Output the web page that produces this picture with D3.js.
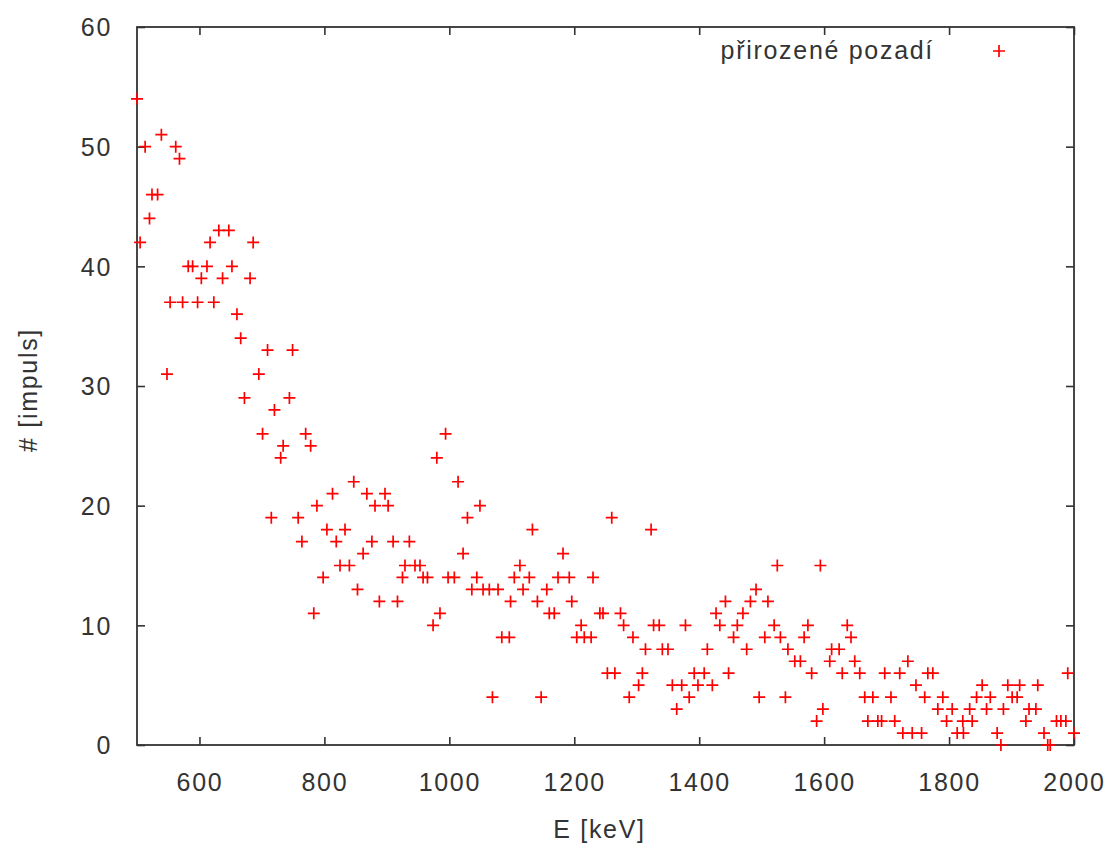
<!DOCTYPE html>
<html>
<head>
<meta charset="utf-8">
<script src="https://cdn.jsdelivr.net/npm/d3@7"></script>
<style>
  body { margin: 0; background: #fff; }
  text { font-family: "Liberation Sans", Arial, sans-serif; fill: #333; letter-spacing: 1.7px; }
</style>
</head>
<body>
<div id="container"></div>
<script>
const width = 1110,
  height = 848,
  margin = { top: 27, bottom: 103, left: 137, right: 36 };

/** -------------- DATA -------------- */

// energy of each channel [keV]
const energy = [
  500, 505, 513, 520, 524, 533, 539, 548, 553, 562, 568, 573, 582, 589, 597, 603,
  612, 617, 623, 631, 637, 647, 652, 660, 666, 672, 681, 686, 695, 701, 709, 715,
  720, 730, 734, 744, 749, 758, 764, 770, 778, 783, 788, 798, 804, 813, 819, 825,
  833, 840, 847, 853, 862, 868, 876, 881, 888, 897, 902, 910, 917, 925, 929, 936,
  945, 953, 958, 965, 974, 980, 985, 994, 998, 1008, 1014, 1022, 1029, 1036, 1044, 1049,
  1054, 1064, 1069, 1078, 1084, 1096, 1098, 1104, 1113, 1118, 1128, 1133, 1141, 1147, 1156, 1160,
  1168, 1174, 1182, 1192, 1196, 1204, 1211, 1216, 1227, 1230, 1241, 1246, 1253, 1260, 1265, 1274,
  1279, 1288, 1294, 1303, 1309, 1314, 1323, 1327, 1336, 1341, 1350, 1357, 1364, 1372, 1378, 1384,
  1392, 1398, 1408, 1413, 1421, 1427, 1433, 1442, 1447, 1455, 1461, 1470, 1476, 1482, 1491, 1496,
  1505, 1510, 1520, 1525, 1530, 1538, 1542, 1553, 1562, 1568, 1574, 1580, 1588, 1594, 1598, 1609,
  1612, 1624, 1629, 1637, 1643, 1649, 1657, 1665, 1670, 1678, 1686, 1692, 1697, 1707, 1713, 1721,
  1726, 1734, 1741, 1747, 1756, 1761, 1766, 1774, 1782, 1790, 1796, 1805, 1813, 1822, 1823, 1833,
  1837, 1844, 1853, 1860, 1866, 1877, 1883, 1887, 1894, 1901, 1909, 1913, 1923, 1928, 1939, 1942,
  1952, 1958, 1962, 1972, 1979, 1987, 1990, 2000
];

// counts in each channel
const counts = [
  54, 42, 50, 44, 46, 46, 51, 31, 37, 50, 49, 37, 40, 40, 37, 39,
  40, 42, 37, 43, 39, 43, 40, 36, 34, 29, 39, 42, 31, 26, 33, 19,
  28, 24, 25, 29, 33, 19, 17, 26, 25, 11, 20, 14, 18, 21, 17, 15,
  18, 15, 22, 13, 16, 21, 17, 20, 12, 21, 20, 17, 12, 14, 15, 17,
  15, 15, 14, 14, 10, 24, 11, 26, 14, 14, 22, 16, 19, 13, 14, 20,
  13, 13, 4, 13, 9, 9, 12, 14, 15, 13, 14, 18, 12, 4, 13, 11,
  11, 14, 16, 14, 12, 9, 10, 9, 9, 14, 11, 11, 6, 19, 6, 11,
  10, 4, 9, 5, 6, 8, 18, 10, 10, 8, 8, 5, 3, 5, 10, 4,
  6, 5, 6, 8, 5, 11, 10, 12, 6, 9, 10, 11, 8, 12, 13, 4,
  9, 12, 10, 15, 9, 4, 8, 7, 7, 9, 10, 6, 2, 15, 3, 7,
  8, 8, 6, 10, 9, 7, 6, 4, 2, 4, 2, 2, 6, 4, 2, 6,
  1, 7, 1, 5, 1, 4, 6, 6, 3, 4, 2, 3, 1, 2, 1, 3,
  2, 4, 5, 3, 4, 1, 0, 3, 5, 4, 4, 5, 2, 3, 3, 5,
  1, 0, 0, 2, 2, 2, 6, 1
];

const xTicks = [600, 800, 1000, 1200, 1400, 1600, 1800, 2000];
const yTicks = [0, 10, 20, 30, 40, 50, 60];

const seriesName = "přirozené pozadí";
const xTitle = "E [keV]";
const yTitle = "# [impuls]";

const data = energy.map((e, i) => ({ e, n: counts[i] }));

/** -------------- SCALES -------------- */

const innerW = width - margin.left - margin.right,
  innerH = height - margin.top - margin.bottom;

const x = d3.scaleLinear([500, 2000], [0, innerW]);
const y = d3.scaleLinear([0, 60], [innerH, 0]);

/** -------------- APPEND TO DOM -------------- */

const svg = d3.select("#container")
  .append("svg")
  .attr("width", width)
  .attr("height", height);

const g = svg.append("g")
  .attr("transform", `translate(${[margin.left, margin.top]})`);

const fontSize = 25;
const axisColor = "#333";

// bottom axis with labels, ticks pointing inward
g.append("g")
  .attr("transform", `translate(0, ${innerH})`)
  .call(d3.axisBottom(x).tickValues(xTicks).tickSize(-8).tickSizeOuter(0).tickFormat(d3.format("d")))
  .call(a => a.select(".domain").remove())
  .call(a => a.selectAll("text")
    .attr("y", 46).attr("dy", null)
    .attr("font-size", fontSize));

// top mirror ticks
g.append("g")
  .call(d3.axisTop(x).tickValues(xTicks).tickSize(-8).tickFormat(""))
  .call(a => a.select(".domain").remove());

// left axis
g.append("g")
  .call(d3.axisLeft(y).tickValues(yTicks).tickSize(-8).tickFormat(d3.format("d")))
  .call(a => a.select(".domain").remove())
  .call(a => a.selectAll("text")
    .attr("x", -25).attr("dy", "0.35em")
    .attr("font-size", fontSize));

// right mirror ticks
g.append("g")
  .attr("transform", `translate(${innerW}, 0)`)
  .call(d3.axisRight(y).tickValues(yTicks).tickSize(-8).tickFormat(""))
  .call(a => a.select(".domain").remove());

g.selectAll(".tick line")
  .attr("stroke", axisColor)
  .attr("stroke-width", 1.6);

g.selectAll(".tick text").attr("fill", "#333");

// border box
g.append("rect")
  .attr("width", innerW)
  .attr("height", innerH)
  .attr("fill", "none")
  .attr("stroke", axisColor)
  .attr("stroke-width", 1.8);

// axis titles
svg.append("text")
  .attr("x", margin.left + innerW / 2 - 6)
  .attr("y", 838)
  .attr("text-anchor", "middle")
  .attr("font-size", fontSize)
  .text(xTitle);

svg.append("text")
  .attr("transform", `translate(37, ${margin.top + innerH / 2 + 4}) rotate(-90)`)
  .attr("text-anchor", "middle")
  .attr("font-size", fontSize)
  .text(yTitle);

// plus marks
const cross = "M-6,0H6M0,-6V6";
const red = "#ff0000";

g.selectAll("path.pt")
  .data(data)
  .join("path")
    .attr("class", "pt")
    .attr("d", cross)
    .attr("transform", d => `translate(${x(d.e)},${y(d.n)})`)
    .attr("stroke", red)
    .attr("stroke-width", 1.7)
    .attr("fill", "none");

// legend
const legend = svg.append("g");
legend.append("text")
  .attr("x", 934)
  .attr("y", 59)
  .attr("text-anchor", "end")
  .attr("font-size", fontSize)
  .text(seriesName);
legend.append("path")
  .attr("d", cross)
  .attr("transform", "translate(999,51)")
  .attr("stroke", red)
  .attr("stroke-width", 1.7);
</script>
</body>
</html>
